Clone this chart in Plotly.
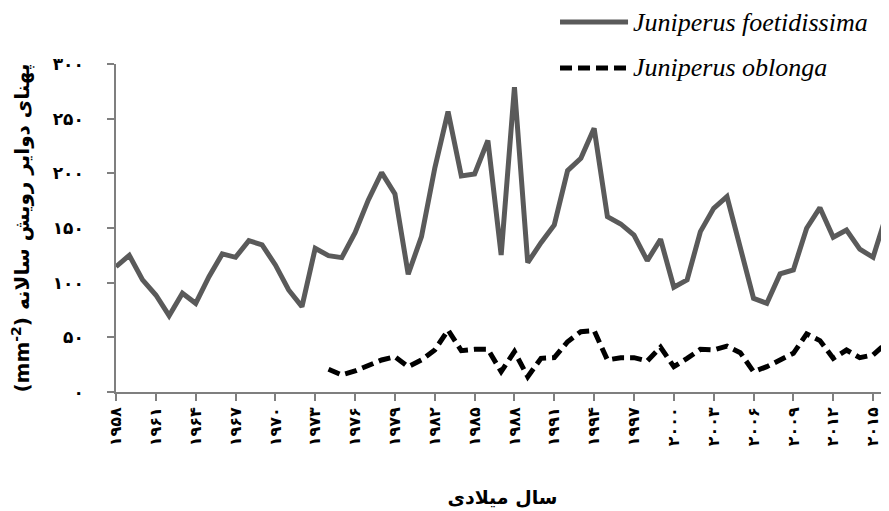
import plotly.graph_objects as go

years_foet = list(range(1958, 2017))
foetidissima = [114.6, 125.0, 102.5, 88.7, 69.8, 90.3, 81.1, 105.5, 126.3, 123.2,
                138.4, 134.5, 116.2, 93.3, 78.1, 131.5, 124.7, 122.9, 145.8, 175.7,
                200.7, 181.2, 107.7, 142.1, 204.6, 256.5, 197.6, 199.5, 230.0, 125.3,
                278.8, 118.3, 136.6, 152.8, 202.5, 213.8, 241.2, 160.4, 153.7, 143.6,
                120.1, 139.7, 95.8, 102.5, 146.7, 168.0, 178.7, 133.6, 85.7, 81.1,
                108.0, 111.6, 149.8, 168.6, 141.5, 148.2, 130.6, 123.2, 161.9]

years_obl = list(range(1974, 2017))
oblonga = [20.8, 15.6, 19.2, 23.8, 29.3, 32.3, 23.2, 29.3, 38.4, 56.7,
           37.8, 39.0, 39.0, 18.6, 36.9, 14.0, 30.8, 31.4, 46.0, 55.2,
           56.1, 29.3, 31.4, 31.4, 28.4, 40.9, 23.2, 30.8, 39.0, 38.4,
           42.0, 36.0, 18.6, 23.2, 29.9, 35.4, 53.1, 47.0, 30.8, 38.4,
           31.4, 33.9, 44.6]

series_names = ["Juniperus foetidissima", "Juniperus oblonga"]

x_tickvals = [1958, 1961, 1964, 1967, 1970, 1973, 1976, 1979, 1982, 1985,
              1988, 1991, 1994, 1997, 2000, 2003, 2006, 2009, 2012, 2015]
x_ticktext = ["۱۹۵۸", "۱۹۶۱", "۱۹۶۴", "۱۹۶۷", "۱۹۷۰", "۱۹۷۳", "۱۹۷۶", "۱۹۷۹",
              "۱۹۸۲", "۱۹۸۵", "۱۹۸۸", "۱۹۹۱", "۱۹۹۴", "۱۹۹۷", "۲۰۰۰", "۲۰۰۳",
              "۲۰۰۶", "۲۰۰۹", "۲۰۱۲", "۲۰۱۵"]
y_tickvals = [0, 50, 100, 150, 200, 250, 300]
y_ticktext = ["۰", "۵۰", "۱۰۰", "۱۵۰", "۲۰۰", "۲۵۰", "۳۰۰"]

styles = [dict(color="#5a5a5a", width=5, dash="solid"),
          dict(color="#000000", width=5, dash="12px,6px")]

fig = go.Figure()
fig.add_trace(go.Scatter(x=years_foet, y=foetidissima, mode="lines",
                         name=series_names[0], line=styles[0], showlegend=False))
fig.add_trace(go.Scatter(x=years_obl, y=oblonga, mode="lines",
                         name=series_names[1], line=styles[1], showlegend=False))

# legend drawn as shapes + text (long line samples like the reference)
legend_rows = [1.128, 0.988]
for name, st, yy in zip(series_names, styles, legend_rows):
    fig.add_shape(type="line", xref="paper", yref="paper",
                  x0=0.5744, x1=0.6624, y0=yy, y1=yy,
                  line=dict(color=st["color"], width=st["width"], dash=st["dash"]))
    fig.add_annotation(xref="paper", yref="paper", x=0.666, y=yy,
                       xanchor="left", yanchor="middle", showarrow=False,
                       text=name,
                       font=dict(family="Liberation Serif",
                                 size=26, color="black", style="italic"))

axis_color = "#7f7f7f"
fig.update_layout(
    width=881, height=503,
    margin=dict(l=108, r=0, t=56, b=119, autoexpand=False),
    paper_bgcolor="white", plot_bgcolor="white",
    font=dict(family="DejaVu Sans", color="black"),
    showlegend=False,
    xaxis=dict(
        range=[1958, 2016.2], tickmode="array", tickvals=x_tickvals, ticktext=x_ticktext,
        tickangle=-90, ticks="outside", ticklen=7, tickcolor=axis_color, tickwidth=1.5,
        showline=True, linecolor=axis_color, linewidth=1.5, showgrid=False, zeroline=False,
        automargin=False,
        tickfont=dict(family="DejaVu Sans", size=16, color="black", weight="bold"),
        title=dict(text="سال میلادی", standoff=45,
                   font=dict(family="DejaVu Sans", size=19, color="black", weight="bold")),
    ),
    yaxis=dict(
        range=[0, 300], tickmode="array", tickvals=y_tickvals, ticktext=y_ticktext,
        ticks="outside", ticklen=7, tickcolor=axis_color, tickwidth=1.5,
        showline=True, linecolor=axis_color, linewidth=1.5, showgrid=False, zeroline=False,
        automargin=False, ticklabelstandoff=20,
        tickfont=dict(family="DejaVu Sans", size=17, color="black", weight="bold"),
        title=dict(text="(mm<sup>-2</sup>) پهنای دوایر رویش سالانه", standoff=28,
                   font=dict(family="DejaVu Sans", size=20, color="black", weight="bold")),
    ),
)

fig.write_html("out.html")
